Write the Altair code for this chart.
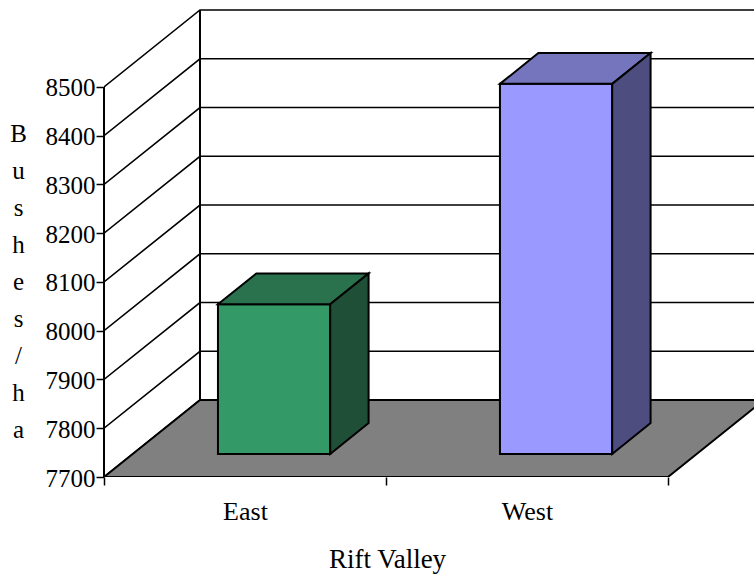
import altair as alt
import pandas as pd

categories = ["East", "West"]
bushels = [8007, 8459]
bar_colors = [["#339966", "#29724D", "#1F4F37"], ["#9999FF", "#7575BD", "#4D4D80"]]
tick_values = [7700, 7800, 7900, 8000, 8100, 8200, 8300, 8400, 8500]
y_title = ["B", "u", "s", "h", "e", "s", "/", "h", "a"]
x_title = "Rift Valley"

# Oblique projection: one unit of depth shifts a point right (category units) and up (bushels).
DEPTH_X = 0.3404
DEPTH_Y = 157.9
BASE = 7700
X_END = 2.305
Y_END = 8662.0
GAP = 0.3
SIDE_GAP = 0.302
BAR_W = 0.398
FONT = "Liberation Serif"


def project(col, depth, value):
    return col + depth * DEPTH_X, value + depth * DEPTH_Y


rows = []


def add_face(name, fill, corners):
    for i, (col, depth, value) in enumerate(corners):
        px, py = project(col, depth, value)
        rows.append({"face": name, "ord": i, "x": px, "y": py, "fill": fill})


for i, (cat, val, cols) in enumerate(zip(categories, bushels, bar_colors)):
    a, b = i + SIDE_GAP, i + SIDE_GAP + BAR_W
    z0, z1 = GAP, GAP + 0.4
    add_face(cat + " front", cols[0], [(a, z0, BASE), (b, z0, BASE), (b, z0, val), (a, z0, val)])
    add_face(cat + " top", cols[1], [(a, z0, val), (b, z0, val), (b, z1, val), (a, z1, val)])
    add_face(cat + " side", cols[2], [(b, z0, BASE), (b, z1, BASE), (b, z1, val), (b, z0, val)])

floor = pd.DataFrame(
    [
        {"ord": i, "x": project(c, d, BASE)[0], "y": project(c, d, BASE)[1]}
        for i, (c, d) in enumerate([(0, 0), (2, 0), (2, 1), (0, 1)])
    ]
)
floor["face"] = "floor"

grid_rows = []
for v in tick_values:
    grid_rows += [
        {"v": v, "ord": 0, "x": 0, "y": v},
        {"v": v, "ord": 1, "x": DEPTH_X, "y": v + DEPTH_Y},
        {"v": v, "ord": 2, "x": X_END, "y": v + DEPTH_Y},
    ]
grid = pd.DataFrame(grid_rows)

wall_edge = pd.DataFrame(
    [
        {"edge": "left", "ord": 0, "x": 0, "y": BASE},
        {"edge": "left", "ord": 1, "x": 0, "y": tick_values[-1]},
        {"edge": "back", "ord": 0, "x": DEPTH_X, "y": BASE + DEPTH_Y},
        {"edge": "back", "ord": 1, "x": DEPTH_X, "y": tick_values[-1] + DEPTH_Y},
    ]
)

x_scale = alt.Scale(domain=[0, X_END], nice=False, zero=False)
y_scale = alt.Scale(domain=[BASE, Y_END], nice=False, zero=False)

x_axis = alt.Axis(
    values=[0, 0.5, 1, 1.5, 2],
    grid=False,
    domain=False,
    title=x_title,
    titleFont=FONT,
    titleFontSize=27,
    titleFontWeight="normal",
    titleColor="black",
    titleX=283,
    titleY=69,
    labelFont=FONT,
    labelFontSize=26,
    labelColor="black",
    labelPadding=13,
    labelAngle=0,
    labelExpr=f"datum.value == 0.5 ? '{categories[0]}' : datum.value == 1.5 ? '{categories[1]}' : ''",
    tickColor="black",
    tickSize=8,
    tickWidth=1.5,
    tickOpacity=alt.condition("datum.value % 1 == 0", alt.value(1), alt.value(0)),
)
y_axis = alt.Axis(
    values=tick_values,
    grid=False,
    domain=False,
    title=y_title,
    titleFont=FONT,
    titleFontSize=25,
    titleFontWeight="normal",
    titleColor="black",
    titleAngle=0,
    titleLineHeight=37,
    titleAlign="center",
    titleBaseline="top",
    titleX=-86,
    titleY=113,
    labelFont=FONT,
    labelFontSize=25,
    labelColor="black",
    labelPadding=1,
    labelOffset=1,
    format="d",
    tickColor="black",
    tickSize=8,
    tickWidth=1.5,
)

base_axes = (
    alt.Chart(grid)
    .mark_line(stroke="black", strokeWidth=1.6, clip=True)
    .encode(
        x=alt.X("x:Q", scale=x_scale, axis=x_axis),
        y=alt.Y("y:Q", scale=y_scale, axis=y_axis),
        order="ord:Q",
        detail="v:N",
    )
)

edges = (
    alt.Chart(wall_edge)
    .mark_line(stroke="black", strokeWidth=2, clip=False)
    .encode(x=alt.X("x:Q", scale=x_scale), y=alt.Y("y:Q", scale=y_scale), order="ord:Q", detail="edge:N")
)

floor_layer = (
    alt.Chart(floor)
    .mark_line(interpolate="linear-closed", fill="#808080", stroke="black", strokeWidth=2, clip=True)
    .encode(x=alt.X("x:Q", scale=x_scale), y=alt.Y("y:Q", scale=y_scale), order="ord:Q")
)

faces = (
    alt.Chart(pd.DataFrame(rows))
    .mark_line(interpolate="linear-closed", stroke="black", strokeWidth=2, clip=True)
    .encode(
        x=alt.X("x:Q", scale=x_scale),
        y=alt.Y("y:Q", scale=y_scale),
        order="ord:Q",
        detail="face:N",
        fill=alt.Fill("fill:N", scale=None),
    )
)

chart = (
    alt.layer(base_axes, edges, floor_layer, faces)
    .properties(
        width=650,
        height=469,
        padding={"left": 104, "top": 8, "right": 0, "bottom": 101},
        autosize=alt.AutoSizeParams(type="none"),
        background="white",
    )
    .configure_view(stroke=None)
)

chart.save("out.html", embed_options={"renderer": "svg", "actions": False})
